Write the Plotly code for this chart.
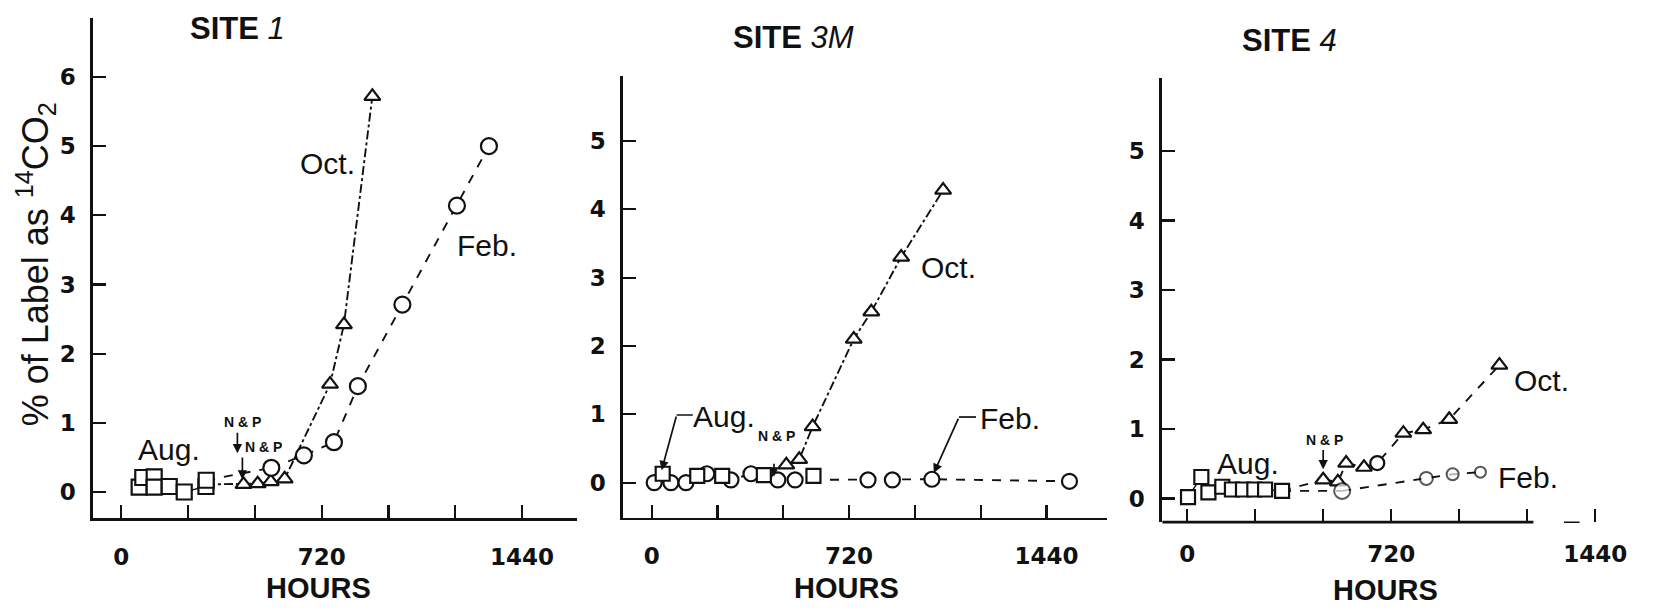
import plotly.graph_objects as go

# ---------------- data (hours, % of label as 14CO2) ----------------
# SITE 1
s1_aug_h = [64, 77, 118, 118, 172, 226, 304, 305]
s1_aug_v = [0.07, 0.21, 0.22, 0.07, 0.08, 0.00, 0.08, 0.17]
s1_oct_h = [304, 439, 490, 537, 587, 750, 800, 902]
s1_oct_v = [0.11, 0.11, 0.12, 0.15, 0.19, 1.56, 2.42, 5.72]
s1_feb_h = [539, 656, 764, 850, 1010, 1206, 1321]
s1_feb_v = [0.35, 0.53, 0.72, 1.53, 2.71, 4.14, 5.00]

# SITE 3M
s3_aug_h = [40, 166, 257, 409, 590]
s3_aug_v = [0.13, 0.10, 0.10, 0.11, 0.10]
s3_oct_h = [491, 538, 587, 737, 801, 910, 1063]
s3_oct_v = [0.26, 0.34, 0.82, 2.10, 2.50, 3.30, 4.28]
s3_feb_h = [9, 70, 125, 201, 289, 362, 460, 523, 789, 878, 1022, 1524]
s3_feb_v = [0.00, 0.00, 0.00, 0.13, 0.04, 0.13, 0.04, 0.04, 0.04, 0.04, 0.05, 0.02]

# SITE 4
s4_aug_h = [3, 50, 75, 124, 158, 197, 237, 275, 335]
s4_aug_v = [0.02, 0.31, 0.09, 0.17, 0.13, 0.13, 0.13, 0.13, 0.11]
s4_oct_h = [480, 532, 561, 624, 671, 763, 833, 925, 1102]
s4_oct_v = [0.27, 0.24, 0.51, 0.45, 0.51, 0.94, 0.99, 1.14, 1.92]
s4_oct_sym = ["triangle-up"] * 4 + ["circle"] + ["triangle-up"] * 4
s4_feb_h = [547, 844, 937, 1035]
s4_feb_v = [0.11, 0.29, 0.35, 0.38]

x_tickvals = [0, 240, 480, 720, 960, 1200, 1440]
x_ticktext = ["0", "", "", "720", "", "", "1440"]
titles = [("SITE", "1"), ("SITE", "3M"), ("SITE", "4")]

W, H = 1660, 611
BLACK = "#111"
REG = "Liberation Sans, Arial, Helvetica, sans-serif"
WIDE = "DejaVu Sans, Verdana, sans-serif"
NARROW = "Liberation Sans Narrow, Arial Narrow, Liberation Sans, sans-serif"
LW = 1.9

def fx(px):
    return px / W

def fy(py):
    return 1 - py / H

fig = go.Figure()

def add(xa, ya, hs, vs, sym, dash, size, line=True, width=LW):
    fig.add_trace(go.Scatter(
        x=hs, y=vs, xaxis=xa, yaxis=ya,
        mode="lines+markers" if line else "markers",
        line=dict(color=BLACK, width=width, dash=dash),
        marker=dict(symbol=sym, size=size, color="white",
                    line=dict(color=BLACK, width=2.2)),
        showlegend=False, cliponaxis=False))

def link(xa, ya, hs, vs, dash):
    fig.add_trace(go.Scatter(x=hs, y=vs, xaxis=xa, yaxis=ya, mode="lines",
                             line=dict(color=BLACK, width=LW, dash=dash),
                             showlegend=False, hoverinfo="skip"))

# SITE 1
link("x", "y", [s1_aug_h[-1], s1_feb_h[0]], [s1_aug_v[-1], s1_feb_v[0]], "dash")
add("x", "y", s1_oct_h, s1_oct_v, "triangle-up", "dashdot", 14)
add("x", "y", s1_feb_h, s1_feb_v, "circle", "dash", 16)
add("x", "y", s1_aug_h, s1_aug_v, "square", "solid", 15, width=1.4)

# SITE 3M
add("x2", "y2", s3_feb_h, s3_feb_v, "circle", "dash", 15)
add("x2", "y2", s3_oct_h, s3_oct_v, "triangle-up", "dashdot", 14)
add("x2", "y2", s3_aug_h, s3_aug_v, "square", "solid", 14, line=False)

# SITE 4
link("x3", "y3", [s4_aug_h[-1], s4_oct_h[0]], [s4_aug_v[-1], s4_oct_v[0]], "dash")
link("x3", "y3", [s4_aug_h[-1], s4_feb_h[0]], [s4_aug_v[-1], s4_feb_v[0]], "dash")
fig.add_trace(go.Scatter(
    x=s4_oct_h, y=s4_oct_v, xaxis="x3", yaxis="y3", mode="lines+markers",
    line=dict(color=BLACK, width=LW, dash="dash"),
    marker=dict(symbol=s4_oct_sym, size=14, color="white", line=dict(color=BLACK, width=2.2)),
    showlegend=False))
fig.add_trace(go.Scatter(
    x=s4_feb_h, y=s4_feb_v, xaxis="x3", yaxis="y3", mode="lines+markers",
    line=dict(color=BLACK, width=LW, dash="dash"),
    marker=dict(symbol="circle", size=[16, 13, 12, 11], color="white",
                line=dict(color=BLACK, width=2)),
    showlegend=False))
add("x3", "y3", s4_aug_h, s4_aug_v, "square", "solid", 14, width=1.4)

# ---------------- axes ----------------
axis_common = dict(showline=True, linecolor=BLACK, linewidth=2.8, ticks="inside",
                   tickcolor=BLACK, tickwidth=2.2, ticklen=13, showgrid=False,
                   zeroline=False, fixedrange=True,
                   tickfont=dict(family=WIDE, size=23, color=BLACK, weight="bold"))

panels = [
    dict(xd=(94.9, 587.4), yd=(17.5, 518.3), xr=[-101, 1638], yr=[-0.38, 6.86], yt=list(range(0, 7))),
    dict(xd=(634.3, 1127), yd=(76, 517.5), xr=[-104, 1662], yr=[-0.51, 5.95], yt=list(range(0, 6))),
    dict(xd=(1182.9, 1627), yd=(77.9, 522.2), xr=[-88, 1452], yr=[-0.34, 6.05], yt=list(range(0, 6))),
]
lay = {}
for i, p in enumerate(panels):
    sfx = "" if i == 0 else str(i + 1)
    lay["xaxis" + sfx] = dict(axis_common, domain=[fx(p["xd"][0]), fx(p["xd"][1])],
                              range=p["xr"], anchor="y" + sfx, tickvals=x_tickvals,
                              ticktext=x_ticktext, ticklabelstandoff=16)
    lay["yaxis" + sfx] = dict(axis_common, domain=[fy(p["yd"][1]), fy(p["yd"][0])],
                              range=p["yr"], anchor="x" + sfx, tickvals=p["yt"],
                              ticktext=[str(v) for v in p["yt"]], ticklabelstandoff=10)
# third panel x axis line is broken near its right end
lay["xaxis3"]["showline"] = False

fig.update_layout(width=W, height=H, margin=dict(l=0, r=0, t=0, b=0),
                  paper_bgcolor="white", plot_bgcolor="white", hovermode=False, **lay)

ann = []
def txt(x, y, t, xr, yr, size=30, family=REG, bold=False):
    ann.append(dict(x=x, y=y, xref=xr, yref=yr, text=t, showarrow=False,
                    xanchor="center", yanchor="middle",
                    font=dict(family=family, size=size, color=BLACK,
                              weight="bold" if bold else "normal")))

def paper_txt(px, py, t, size, family, angle=0, bold=False):
    ann.append(dict(x=fx(px), y=fy(py), xref="paper", yref="paper", text=t,
                    showarrow=False, xanchor="center", yanchor="middle", textangle=angle,
                    font=dict(family=family, size=size, color=BLACK,
                              weight="bold" if bold else "normal")))

def arrow(x, y, ax, ay, xr, yr):
    ann.append(dict(x=x, y=y, ax=ax, ay=ay, xref=xr, yref=yr, axref=xr, ayref=yr,
                    text="", showarrow=True, arrowhead=2, arrowsize=1.1,
                    arrowwidth=1.7, arrowcolor=BLACK))

# titles
for (cx, cy), (a, b) in zip([(242, 28), (808, 37), (1312, 40)], titles):
    paper_txt(cx, cy, "<b>" + a + "</b> <i>" + b + "</i>", 31, NARROW)
# HOURS
for cx, cy in [(324, 588), (862, 588), (1410, 590)]:
    paper_txt(cx, cy, "<b>HOURS</b>", 29, NARROW)
# y title
paper_txt(36, 264, "% of Label as <sup>14</sup>CO<sub>2</sub>", 36, REG, angle=-90)

NP = "N & P"
# SITE 1 labels
txt(172, 0.62, "Aug.", "x", "y")
txt(740, 4.75, "Oct.", "x", "y")
txt(1314, 3.56, "Feb.", "x", "y")
txt(435, 1.01, NP, "x", "y", size=14, bold=True)
arrow(417, 0.56, 417, 0.88, "x", "y")
txt(511, 0.65, NP, "x", "y", size=14, bold=True)
arrow(435, 0.18, 435, 0.52, "x", "y")

# SITE 3M labels
txt(264, 0.97, "Aug.", "x2", "y2")
arrow(36, 0.18, 91, 0.99, "x2", "y2")
txt(1083, 3.15, "Oct.", "x2", "y2")
txt(1307, 0.94, "Feb.", "x2", "y2")
arrow(1029, 0.14, 1121, 0.96, "x2", "y2")
txt(456, 0.68, NP, "x2", "y2", size=14, bold=True)
arrow(446, 0.09, 446, 0.30, "x2", "y2")

# SITE 4 labels
txt(214, 0.50, "Aug.", "x3", "y3")
txt(1250, 1.70, "Oct.", "x3", "y3")
txt(1203, 0.30, "Feb.", "x3", "y3")
txt(486, 0.84, NP, "x3", "y3", size=14, bold=True)
arrow(480, 0.42, 480, 0.72, "x3", "y3")

shapes = [
    dict(type="line", xref="x2", yref="y2", x0=91, y0=0.99, x1=150, y1=0.99,
         line=dict(color=BLACK, width=1.7)),
    dict(type="line", xref="x2", yref="y2", x0=1121, y0=0.96, x1=1183, y1=0.96,
         line=dict(color=BLACK, width=1.7)),
    # broken bottom axis of SITE 4
    dict(type="line", xref="x3", yref="y3 domain", x0=-88, y0=0, x1=1222, y1=0,
         line=dict(color=BLACK, width=2.8)),
    dict(type="line", xref="x3", yref="y3 domain", x0=1330, y0=0, x1=1385, y1=0,
         line=dict(color=BLACK, width=1.5)),
]
fig.update_layout(annotations=ann, shapes=shapes)

# remove the browser's default 8px body margin so the figure fills the window exactly
fig.write_html("out.html", config={"displayModeBar": False, "staticPlot": True},
               post_script="document.body.style.margin='0';document.body.style.overflow='hidden';")
